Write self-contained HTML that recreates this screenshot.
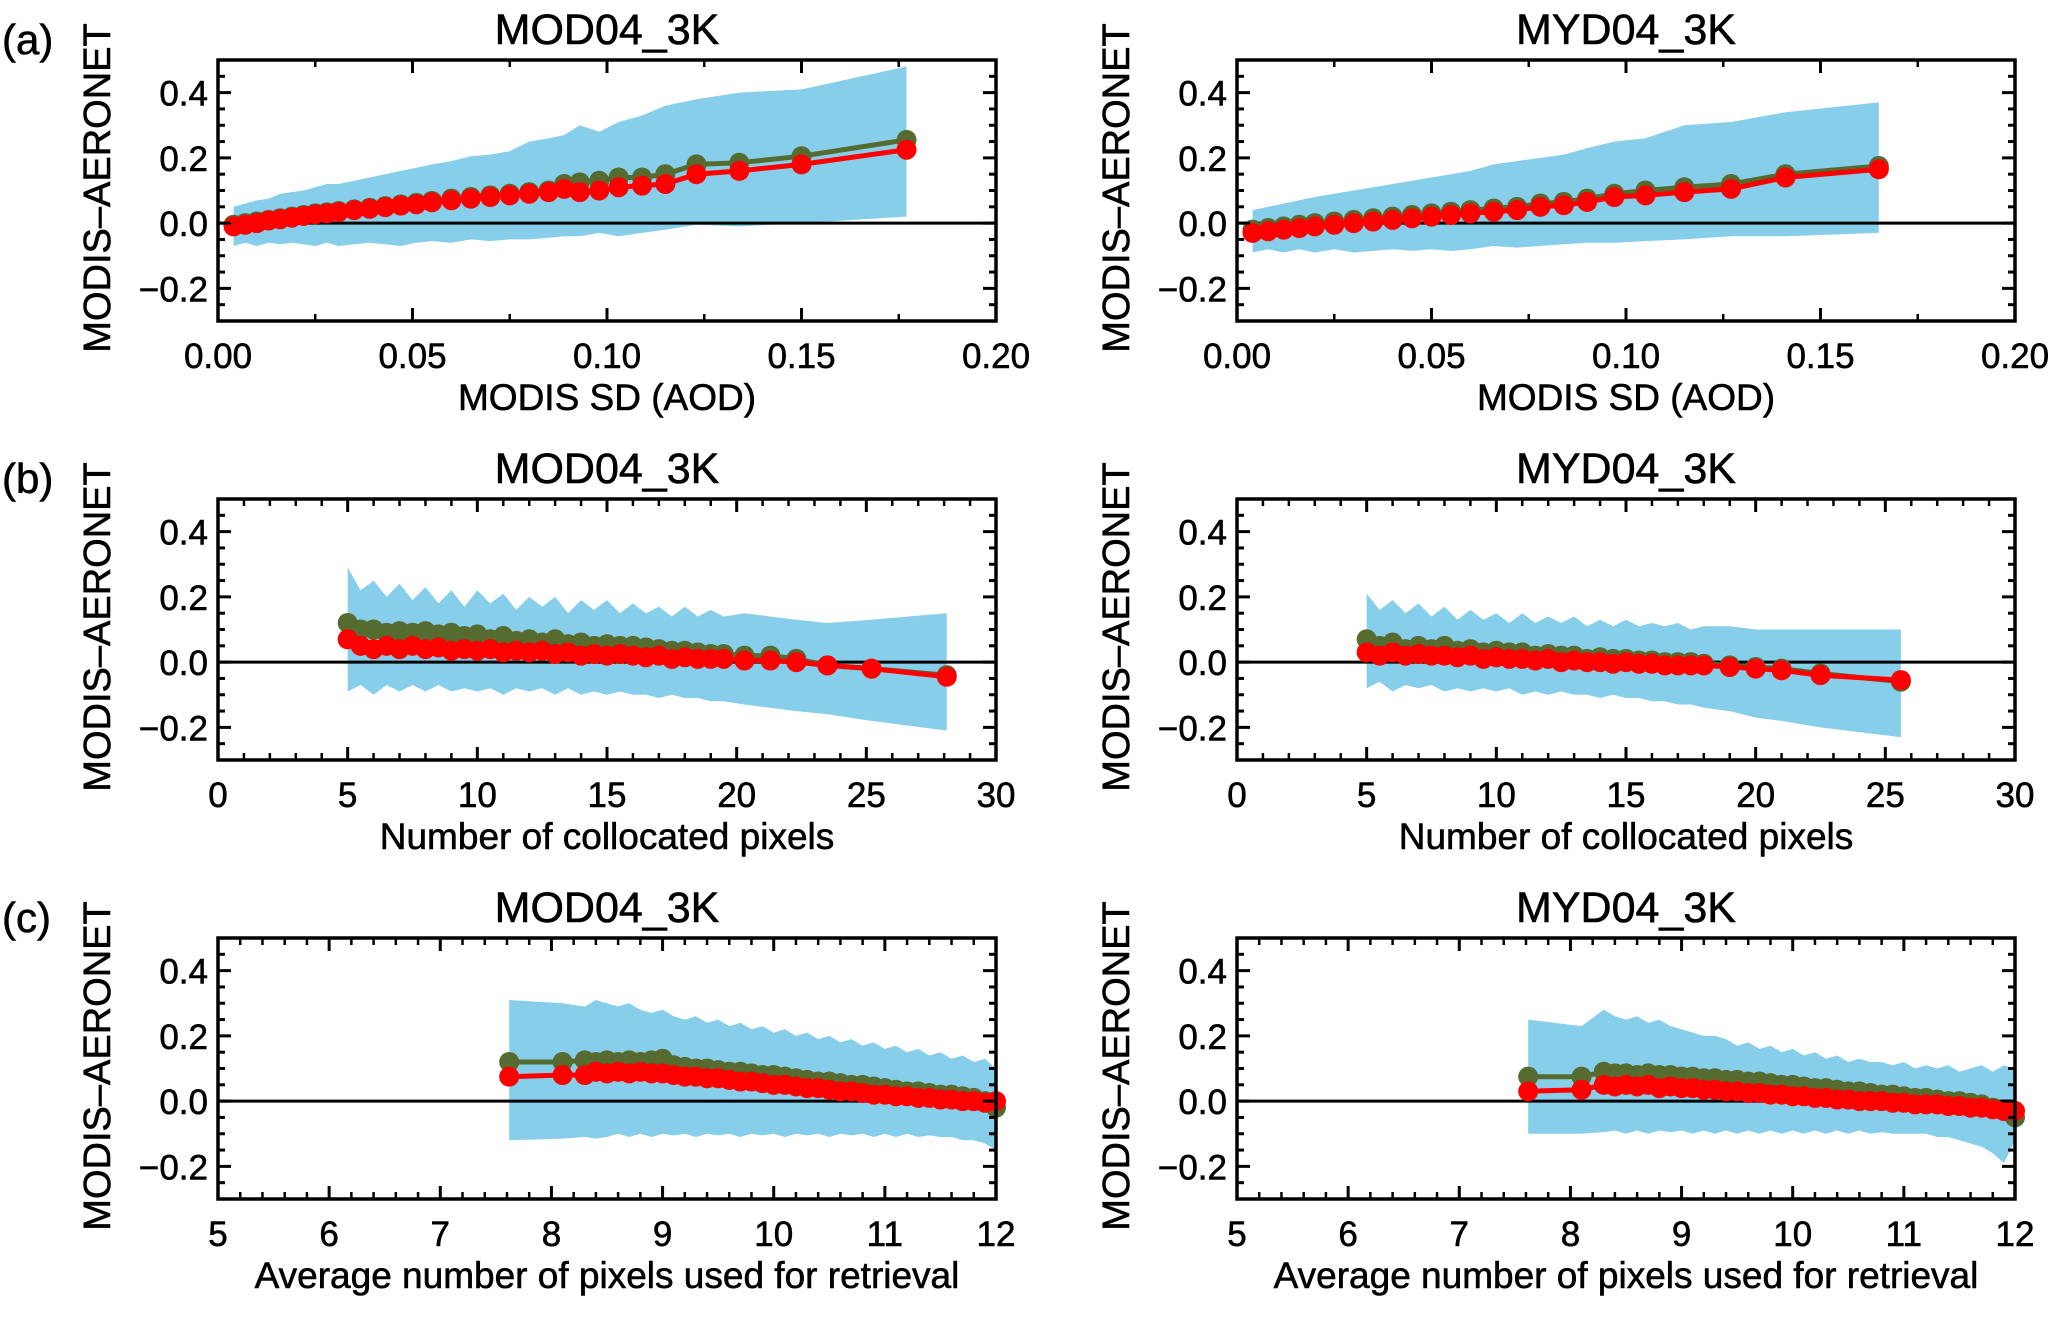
<!DOCTYPE html>
<html><head><meta charset="utf-8"><style>
html,body{margin:0;padding:0;background:#fff;}
svg{display:block;font-family:"Liberation Sans",Arial,sans-serif;}
</style></head><body>
<svg id="fig" width="2067" height="1318" viewBox="0 0 2067 1318" xmlns="http://www.w3.org/2000/svg"></svg>
<script>
// ---- data ----
const aLeftX=[0.004,0.007,0.010,0.013,0.016,0.019,0.022,0.025,0.028,0.031,0.035,0.039,0.043,0.047,0.051,0.055,0.060,0.065,0.070,0.075,0.080,0.085,0.089,0.093,0.098,0.103,0.109,0.115,0.123,0.134,0.150,0.177];
const aLeftGreen=[-0.005,0.0,0.005,0.01,0.015,0.02,0.025,0.03,0.033,0.037,0.042,0.047,0.052,0.057,0.062,0.068,0.075,0.08,0.085,0.09,0.095,0.10,0.12,0.125,0.13,0.14,0.14,0.15,0.18,0.185,0.205,0.255];
const aLeftRed=[-0.01,-0.005,0.0,0.008,0.012,0.017,0.022,0.027,0.03,0.034,0.04,0.044,0.049,0.054,0.058,0.064,0.07,0.075,0.08,0.085,0.09,0.095,0.105,0.095,0.10,0.11,0.115,0.12,0.15,0.16,0.18,0.225];
const aLeftUpper=[0.05,0.06,0.07,0.075,0.09,0.095,0.10,0.11,0.12,0.12,0.13,0.14,0.15,0.16,0.17,0.18,0.19,0.205,0.21,0.22,0.25,0.26,0.27,0.30,0.28,0.31,0.33,0.36,0.38,0.40,0.41,0.48];
const aLeftLower=[-0.07,-0.06,-0.07,-0.06,-0.065,-0.06,-0.065,-0.07,-0.06,-0.07,-0.065,-0.06,-0.065,-0.07,-0.06,-0.055,-0.06,-0.05,-0.055,-0.05,-0.05,-0.045,-0.04,-0.04,-0.03,-0.04,-0.03,-0.02,-0.005,-0.01,0.0,0.02];

const aRightX=[0.004,0.008,0.012,0.016,0.020,0.025,0.030,0.035,0.040,0.045,0.050,0.055,0.060,0.066,0.072,0.078,0.084,0.090,0.097,0.105,0.115,0.127,0.141,0.165];
const aRightGreen=[-0.02,-0.015,-0.01,-0.005,0.0,0.005,0.01,0.015,0.02,0.025,0.03,0.035,0.04,0.045,0.05,0.06,0.065,0.075,0.09,0.1,0.11,0.12,0.15,0.175];
const aRightRed=[-0.03,-0.025,-0.02,-0.015,-0.01,-0.005,0.0,0.005,0.01,0.015,0.02,0.025,0.03,0.035,0.04,0.05,0.055,0.065,0.08,0.085,0.095,0.105,0.14,0.165];
const aRightUpper=[0.04,0.05,0.06,0.07,0.08,0.09,0.10,0.11,0.12,0.13,0.14,0.15,0.16,0.18,0.19,0.20,0.21,0.23,0.25,0.26,0.30,0.31,0.34,0.37];
const aRightLower=[-0.09,-0.08,-0.09,-0.08,-0.09,-0.08,-0.09,-0.085,-0.08,-0.085,-0.08,-0.085,-0.08,-0.07,-0.075,-0.07,-0.065,-0.06,-0.06,-0.055,-0.05,-0.04,-0.04,-0.03];

const bLeftX=[5,5.5,6,6.5,7,7.5,8,8.5,9,9.5,10,10.5,11,11.5,12,12.5,13,13.5,14,14.5,15,15.5,16,16.5,17,17.5,18,18.5,19,19.5,20.3,21.3,22.3,23.5,25.2,28.1];
const bLeftGreen=[0.12,0.10,0.10,0.09,0.095,0.09,0.095,0.085,0.09,0.08,0.085,0.07,0.08,0.065,0.07,0.06,0.07,0.055,0.06,0.05,0.055,0.05,0.05,0.045,0.04,0.035,0.035,0.03,0.025,0.025,0.02,0.02,0.01,-0.01,-0.02,-0.04];
const bLeftRed=[0.07,0.05,0.04,0.05,0.04,0.05,0.04,0.045,0.035,0.04,0.035,0.04,0.03,0.035,0.03,0.035,0.025,0.03,0.02,0.025,0.02,0.025,0.02,0.015,0.02,0.01,0.015,0.01,0.01,0.01,0.005,0.005,0.0,-0.01,-0.02,-0.045];
const bLeftUpper=[0.29,0.22,0.25,0.20,0.24,0.19,0.23,0.18,0.22,0.17,0.22,0.18,0.21,0.16,0.20,0.17,0.20,0.15,0.19,0.16,0.19,0.15,0.18,0.15,0.17,0.14,0.17,0.14,0.16,0.14,0.15,0.14,0.13,0.12,0.13,0.15];
const bLeftLower=[-0.09,-0.07,-0.10,-0.07,-0.09,-0.07,-0.09,-0.07,-0.09,-0.08,-0.09,-0.08,-0.10,-0.08,-0.09,-0.08,-0.10,-0.08,-0.10,-0.09,-0.10,-0.09,-0.10,-0.10,-0.11,-0.10,-0.11,-0.11,-0.12,-0.12,-0.13,-0.14,-0.15,-0.16,-0.18,-0.21];

const bRightX=[5,5.5,6,6.5,7,7.5,8,8.5,9,9.5,10,10.5,11,11.5,12,12.5,13,13.5,14,14.5,15,15.5,16,16.5,17,17.5,18,19,20,21,22.5,25.6];
const bRightGreen=[0.07,0.05,0.06,0.04,0.05,0.04,0.05,0.035,0.04,0.03,0.035,0.03,0.03,0.02,0.025,0.02,0.02,0.01,0.015,0.01,0.01,0.005,0.005,0.0,0.0,0.0,-0.005,-0.01,-0.015,-0.02,-0.035,-0.06];
const bRightRed=[0.03,0.02,0.03,0.02,0.025,0.02,0.02,0.015,0.02,0.01,0.015,0.01,0.01,0.005,0.01,0.0,0.005,0.0,0.0,-0.005,0.0,-0.005,-0.005,-0.01,-0.01,-0.01,-0.01,-0.015,-0.02,-0.025,-0.04,-0.055];
const bRightUpper=[0.21,0.16,0.19,0.15,0.18,0.14,0.17,0.13,0.16,0.13,0.15,0.12,0.15,0.12,0.14,0.12,0.14,0.11,0.13,0.11,0.13,0.11,0.12,0.11,0.12,0.10,0.11,0.11,0.10,0.10,0.10,0.10];
const bRightLower=[-0.08,-0.06,-0.09,-0.07,-0.08,-0.07,-0.09,-0.08,-0.09,-0.08,-0.09,-0.08,-0.10,-0.09,-0.10,-0.09,-0.10,-0.10,-0.11,-0.10,-0.11,-0.11,-0.12,-0.12,-0.13,-0.13,-0.14,-0.15,-0.17,-0.18,-0.20,-0.23];

const cX=[7.62,8.1,8.3,8.4,8.5,8.6,8.7,8.8,8.9,9.0,9.1,9.2,9.3,9.4,9.5,9.6,9.7,9.8,9.9,10.0,10.1,10.2,10.3,10.4,10.5,10.6,10.7,10.8,10.9,11.0,11.1,11.2,11.3,11.4,11.5,11.6,11.7,11.8,11.9,12.0];
const cLeftGreen=[0.12,0.12,0.125,0.12,0.125,0.12,0.125,0.12,0.125,0.13,0.11,0.105,0.10,0.10,0.095,0.09,0.09,0.085,0.08,0.08,0.075,0.07,0.065,0.06,0.06,0.055,0.05,0.05,0.045,0.04,0.035,0.03,0.03,0.025,0.02,0.02,0.015,0.01,0.0,-0.02];
const cLeftRed=[0.075,0.08,0.08,0.09,0.085,0.09,0.085,0.09,0.085,0.085,0.08,0.075,0.075,0.07,0.07,0.065,0.06,0.06,0.055,0.05,0.05,0.045,0.04,0.04,0.035,0.03,0.03,0.025,0.02,0.02,0.015,0.015,0.01,0.01,0.005,0.005,0.0,0.0,-0.005,0.0];
const cLeftUpper=[0.31,0.30,0.29,0.31,0.30,0.29,0.30,0.28,0.27,0.28,0.26,0.25,0.26,0.24,0.25,0.23,0.24,0.22,0.23,0.21,0.22,0.20,0.21,0.19,0.20,0.18,0.19,0.17,0.18,0.16,0.17,0.15,0.16,0.14,0.15,0.13,0.14,0.12,0.13,0.10];
const cLeftLower=[-0.12,-0.115,-0.11,-0.115,-0.11,-0.10,-0.11,-0.10,-0.11,-0.10,-0.105,-0.10,-0.11,-0.10,-0.105,-0.10,-0.11,-0.10,-0.105,-0.10,-0.11,-0.10,-0.105,-0.10,-0.11,-0.10,-0.105,-0.10,-0.11,-0.10,-0.11,-0.10,-0.11,-0.105,-0.11,-0.11,-0.12,-0.12,-0.13,-0.15];
const cRightGreen=[0.075,0.075,0.09,0.085,0.085,0.08,0.085,0.08,0.08,0.075,0.075,0.07,0.07,0.065,0.065,0.06,0.06,0.055,0.05,0.05,0.045,0.04,0.04,0.035,0.03,0.03,0.025,0.02,0.02,0.015,0.01,0.01,0.005,0.0,0.0,-0.005,-0.01,-0.02,-0.03,-0.05];
const cRightRed=[0.03,0.035,0.05,0.045,0.05,0.045,0.05,0.04,0.045,0.04,0.04,0.035,0.035,0.03,0.03,0.025,0.025,0.02,0.02,0.015,0.015,0.01,0.01,0.005,0.005,0.0,0.0,0.0,-0.005,-0.005,-0.01,-0.01,-0.01,-0.015,-0.015,-0.02,-0.02,-0.025,-0.03,-0.03];
const cRightUpper=[0.25,0.23,0.28,0.26,0.25,0.26,0.24,0.25,0.23,0.22,0.21,0.20,0.20,0.19,0.17,0.18,0.16,0.17,0.15,0.16,0.14,0.15,0.13,0.14,0.12,0.13,0.12,0.12,0.11,0.12,0.10,0.11,0.10,0.11,0.09,0.10,0.11,0.09,0.11,0.10];
const cRightLower=[-0.10,-0.10,-0.095,-0.09,-0.10,-0.09,-0.10,-0.09,-0.095,-0.09,-0.10,-0.09,-0.10,-0.09,-0.10,-0.09,-0.10,-0.09,-0.10,-0.09,-0.10,-0.09,-0.10,-0.09,-0.10,-0.09,-0.10,-0.095,-0.10,-0.10,-0.10,-0.10,-0.11,-0.11,-0.12,-0.13,-0.14,-0.16,-0.19,-0.12];

const yTickVals=[-0.2,0.0,0.2,0.4];
const yTickLabels=["\u22120.2","0.0","0.2","0.4"];
const aXTicks=[0,0.05,0.10,0.15,0.20];
const aXLabels=["0.00","0.05","0.10","0.15","0.20"];
const bXTicks=[0,5,10,15,20,25,30];
const bXLabels=["0","5","10","15","20","25","30"];
const cXTicks=[5,6,7,8,9,10,11,12];
const cXLabels=["5","6","7","8","9","10","11","12"];

// ---- drawing ----
const NS="http://www.w3.org/2000/svg";
const svg=document.getElementById('fig');
function mk(tag,attrs,parent){const e=document.createElementNS(NS,tag);for(const k in attrs)e.setAttribute(k,attrs[k]);(parent||svg).appendChild(e);return e;}
const TXT={fill:'#000',stroke:'#000','stroke-width':0.6};

function panel(o){
  const g=mk('g',{});
  
  
  const L=o.left,R=o.left+778,T=o.top,B=o.top+261;
  const sx=v=>L+(v-o.xmin)/(o.xmax-o.xmin)*(R-L);
  const sy=v=>B-(v+0.3)/0.8*(B-T);
  let d='';
  o.x.forEach((v,i)=>{d+=(i?'L':'M')+sx(v).toFixed(1)+' '+sy(o.up[i]).toFixed(1);});
  for(let i=o.x.length-1;i>=0;i--)d+='L'+sx(o.x[i]).toFixed(1)+' '+sy(o.lo[i]).toFixed(1);
  const band=mk('path',{d:d+'Z',fill:'#87ceeb',stroke:'none'},g);
  
  
  const z=mk('line',{x1:L,x2:R,y1:sy(0),y2:sy(0),stroke:'#000','stroke-width':3},g);
  
  
  [[o.green,'#556b2f','green-series'],[o.red,'#ff0000','red-series']].forEach(([ys,col,nm])=>{
    const sg=mk('g',{},g);
    
    
    mk('polyline',{points:o.x.map((v,i)=>sx(v).toFixed(1)+','+sy(ys[i]).toFixed(1)).join(' '),fill:'none',stroke:col,'stroke-width':5},sg);
    o.x.forEach((v,i)=>{const c=mk('circle',{cx:sx(v),cy:sy(ys[i]),r:10,fill:col},sg);
      
      });
  });
  const fr=mk('rect',{x:L,y:T,width:R-L,height:B-T,fill:'none',stroke:'#000','stroke-width':3.5},g);
  
  
  for(let k=-6;k<=10;k++){const v=k*0.05,y=sy(v);const maj=(k%4===0);const len=maj?13:7;
    mk('line',{x1:L,x2:L+len,y1:y,y2:y,stroke:'#000','stroke-width':3},g);
    mk('line',{x1:R,x2:R-len,y1:y,y2:y,stroke:'#000','stroke-width':3},g);}
  yTickVals.forEach((v,i)=>{const t=mk('text',Object.assign({x:L-10,y:sy(v)+13,'text-anchor':'end','font-size':35},TXT),g);t.textContent=yTickLabels[i];
    
    });
  const step=o.xt[1]-o.xt[0];
  for(let k=0;k<o.xt.length;k++){const x=sx(o.xt[k]);
    mk('line',{x1:x,x2:x,y1:B,y2:B-13,stroke:'#000','stroke-width':3},g);
    mk('line',{x1:x,x2:x,y1:T,y2:T+13,stroke:'#000','stroke-width':3},g);
    if(k<o.xt.length-1)for(let m=1;m<o.minor;m++){const xm=sx(o.xt[k]+step*m/o.minor);
      mk('line',{x1:xm,x2:xm,y1:B,y2:B-7,stroke:'#000','stroke-width':2.5},g);
      mk('line',{x1:xm,x2:xm,y1:T,y2:T+7,stroke:'#000','stroke-width':2.5},g);}
    const t=mk('text',Object.assign({x:x,y:B+47,'text-anchor':'middle','font-size':35},TXT),g);t.textContent=o.xl[k];
    
    }
  const xt=mk('text',Object.assign({x:(L+R)/2,y:B+89,'text-anchor':'middle','font-size':37},TXT),g);xt.textContent=o.xtitle;
  
  
  const tt=mk('text',Object.assign({x:(L+R)/2,y:T-16,'text-anchor':'middle','font-size':43},TXT),g);tt.textContent=o.title;
  
  
  const yx=L-108,yy=T+128;
  const yt=mk('text',Object.assign({x:yx,y:yy,'text-anchor':'middle','font-size':38,transform:'rotate(-90 '+yx+' '+yy+')'},TXT),g);yt.textContent='MODIS\u2013AERONET';
  
  
}
const LL=218,RL=1237,TA=60,TB=499,TC=938;
panel({name:'panel-a-mod',left:LL,top:TA,xmin:0,xmax:0.2,x:aLeftX,green:aLeftGreen,red:aLeftRed,up:aLeftUpper,lo:aLeftLower,xt:aXTicks,xl:aXLabels,minor:2,title:'MOD04_3K',xtitle:'MODIS SD  (AOD)'});
panel({name:'panel-a-myd',left:RL,top:TA,xmin:0,xmax:0.2,x:aRightX,green:aRightGreen,red:aRightRed,up:aRightUpper,lo:aRightLower,xt:aXTicks,xl:aXLabels,minor:2,title:'MYD04_3K',xtitle:'MODIS SD  (AOD)'});
panel({name:'panel-b-mod',left:LL,top:TB,xmin:0,xmax:30,x:bLeftX,green:bLeftGreen,red:bLeftRed,up:bLeftUpper,lo:bLeftLower,xt:bXTicks,xl:bXLabels,minor:5,title:'MOD04_3K',xtitle:'Number of collocated pixels'});
panel({name:'panel-b-myd',left:RL,top:TB,xmin:0,xmax:30,x:bRightX,green:bRightGreen,red:bRightRed,up:bRightUpper,lo:bRightLower,xt:bXTicks,xl:bXLabels,minor:5,title:'MYD04_3K',xtitle:'Number of collocated pixels'});
panel({name:'panel-c-mod',left:LL,top:TC,xmin:5,xmax:12,x:cX,green:cLeftGreen,red:cLeftRed,up:cLeftUpper,lo:cLeftLower,xt:cXTicks,xl:cXLabels,minor:5,title:'MOD04_3K',xtitle:'Average number of pixels used for retrieval'});
panel({name:'panel-c-myd',left:RL,top:TC,xmin:5,xmax:12,x:cX,green:cRightGreen,red:cRightRed,up:cRightUpper,lo:cRightLower,xt:cXTicks,xl:cXLabels,minor:5,title:'MYD04_3K',xtitle:'Average number of pixels used for retrieval'});
[['(a)',TA],['(b)',TB],['(c)',TC]].forEach(([s,t])=>{const e=mk('text',Object.assign({x:2,y:t-6,'font-size':42},TXT));e.textContent=s;
  
  });
</script>
</body></html>
